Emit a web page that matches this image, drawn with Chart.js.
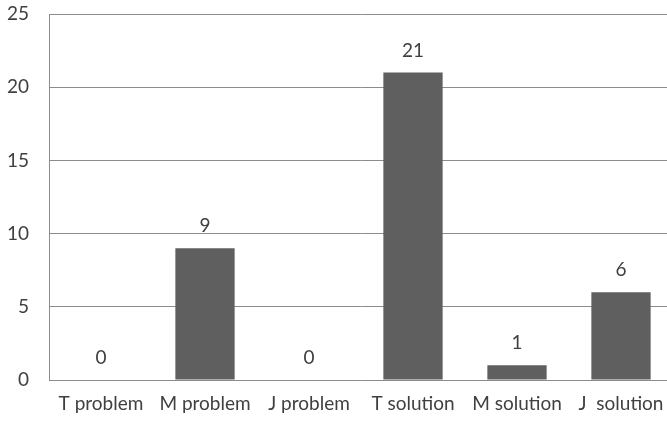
<!DOCTYPE html>
<html>
<head>
<meta charset="utf-8">
<script src="https://cdn.jsdelivr.net/npm/chart.js@4/dist/chart.umd.min.js"></script>
<style>
  html, body { margin: 0; padding: 0; background: #fff; overflow: hidden; }
  #wrap { position: relative; width: 690px; height: 421px; }
</style>
</head>
<body>
<div id="wrap"><canvas id="c"></canvas></div>
<script>
// Counts per group
const categories = ['T problem', 'M problem', 'J problem', 'T solution', 'M solution', 'J  solution'];
const counts = [0, 9, 0, 21, 1, 6];
const yTicks = [0, 5, 10, 15, 20, 25];

const FONT = 'Lato, "Open Sans", sans-serif';
const FSIZE = 19;
const TEXT = '#404040';
const GRID = '#8c8c8c';

// Writes each bar's value above it
const valueLabels = {
  id: 'valueLabels',
  afterDatasetsDraw(chart) {
    const ctx = chart.ctx;
    const meta = chart.getDatasetMeta(0);
    ctx.save();
    ctx.font = FSIZE + 'px ' + FONT;
    ctx.fillStyle = TEXT;
    ctx.textAlign = 'center';
    ctx.textBaseline = 'middle';
    meta.data.forEach((bar, i) => {
      ctx.fillText(String(counts[i]), bar.x, bar.y - 22);
    });
    ctx.restore();
  }
};

new Chart(document.getElementById('c'), {
  type: 'bar',
  data: {
    labels: categories,
    datasets: [{
      data: counts,
      backgroundColor: '#5f5f5f',
      borderWidth: 0,
      barPercentage: 0.57,
      categoryPercentage: 1.0
    }]
  },
  options: {
    responsive: true,
    maintainAspectRatio: false,
    animation: false,
    layout: { padding: { top: 14, right: 17, bottom: 0, left: 0 } },
    plugins: { legend: { display: false }, tooltip: { enabled: false } },
    scales: {
      x: {
        grid: { display: false, drawTicks: false },
        border: { display: false },
        ticks: { color: TEXT, font: { family: FONT, size: FSIZE }, padding: 12, maxRotation: 0, autoSkip: false },
        afterFit(scale) { scale.height = 41; scale.paddingLeft = 0; scale.paddingRight = 0; }
      },
      y: {
        min: 0, max: 25,
        afterBuildTicks(scale) { scale.ticks = yTicks.map(v => ({ value: v })); },
        grid: { color: GRID, lineWidth: 1, drawTicks: false },
        border: { display: true, color: GRID, width: 1 },
        ticks: { color: TEXT, font: { family: FONT, size: FSIZE }, padding: 20 },
        afterFit(scale) { scale.width = 49; scale.paddingTop = 0; scale.paddingBottom = 0; }
      }
    }
  },
  plugins: [valueLabels]
});
</script>
</body>
</html>
